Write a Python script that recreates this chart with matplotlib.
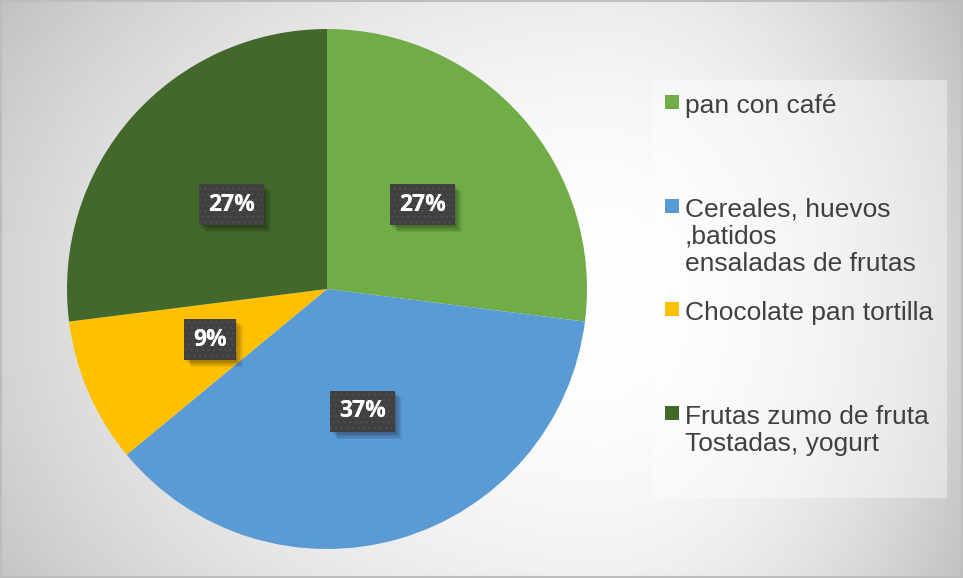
import matplotlib.pyplot as plt
import numpy as np
import matplotlib.patheffects as pe
from matplotlib.patches import Rectangle

# breakfast data
labels = ['pan con café',
          'Cereales, huevos\n,batidos\nensaladas de frutas',
          'Chocolate pan tortilla',
          'Frutas zumo de fruta\nTostadas, yogurt']
values = [27, 37, 9, 27]
colors = ['#70AD47', '#5B9BD5', '#FFC000', '#43682B']

W, H = 963, 578
fig = plt.figure(figsize=(W / 100, H / 100), dpi=100)
ax = fig.add_axes([0, 0, 1, 1])

# background: white centre fading to grey towards the edges
xx, yy = np.meshgrid(np.arange(W) + 0.5, np.arange(H) + 0.5)
cx, cy = 600, 300
dx = np.where(xx < cx, (xx - cx) / 600, (xx - cx) / 363)
dy = np.where(yy < cy, (yy - cy) / 300, (yy - cy) / 278)
drop = np.where(xx < cx, 43, 47) * dx ** 2 + np.where(yy < cy, 19, 15) * dy ** 2
grey = np.clip(255 - drop, 0, 255) / 255
bg = np.dstack([grey, grey, grey])
ax.imshow(bg, extent=(0, W, 0, H), origin='upper', zorder=0, aspect='auto')

label_font = dict(color='white', fontsize=16.5, fontweight='bold',
                  family='Open Sans')
wedges, _, autotexts = ax.pie(
    values, colors=colors, startangle=90, counterclock=False,
    center=(327, H - 289), radius=260,
    autopct=lambda p: f'{p:.0f}%', pctdistance=0.49,
    wedgeprops=dict(linewidth=0), textprops=label_font)

# soft shadow built from a few faint offset copies
shadow = [pe.SimplePatchShadow(offset=(k, -k), shadow_rgbFace='k', alpha=0.08)
          for k in (1, 2, 3, 4, 5)]
for t in autotexts:
    t.set_bbox(dict(boxstyle='square,pad=0.38', facecolor='#404040',
                    edgecolor='none', linewidth=0))
    t.get_bbox_patch().set_path_effects(shadow + [pe.Normal()])
    # dotted texture on top of the plain box
    x, y = t.get_position()
    ax.text(x, y, t.get_text(), ha='center', va='center', zorder=t.get_zorder() + 0.1,
            bbox=dict(boxstyle='square,pad=0.38', facecolor='none',
                      edgecolor='#4e4e4e', hatch='...', linewidth=0),
            **label_font)

# legend panel
ax.add_patch(Rectangle((653, H - 498), 294, 418, facecolor='white',
                       alpha=0.4, linewidth=0, zorder=1))
for i, (lab, col) in enumerate(zip(labels, colors)):
    base = 113 + i * 103.7
    ax.add_patch(Rectangle((665, H - base + 4), 14, 14, facecolor=col,
                           linewidth=0, zorder=2))
    ax.text(685, H - base + 19.5, lab, fontsize=19, color='#404040',
            family='Liberation Sans', va='top', linespacing=1.17,
            zorder=2)

# outer frame
ax.add_patch(Rectangle((0.75, 0.75), W - 1.5, H - 1.5, fill=False,
                       edgecolor='#bdbdbd', linewidth=1.5, zorder=3))

ax.set_xlim(0, W)
ax.set_ylim(0, H)
ax.set_aspect('auto')
ax.axis('off')

fig.savefig('out.png', dpi=100)
